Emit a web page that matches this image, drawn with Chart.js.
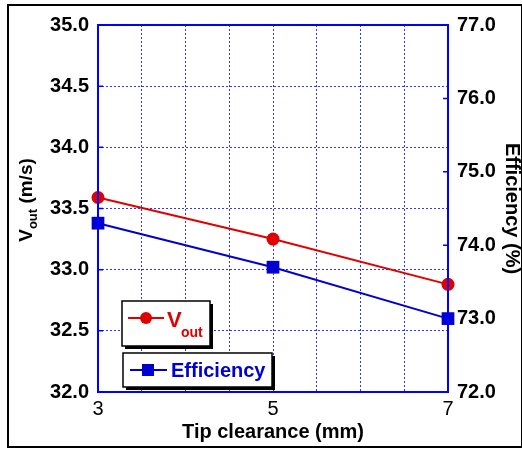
<!DOCTYPE html>
<html>
<head>
<meta charset="utf-8">
<script src="https://cdn.jsdelivr.net/npm/chart.js@4"></script>
<style>
  body { margin: 0; background: #fff; }
  #wrap { width: 522px; height: 450px; }
</style>
</head>
<body>
<div id="wrap"><canvas id="tipChart" width="522" height="450"></canvas></div>
<script>
// values
const clearance = [3, 5, 7];
const vout = [33.59, 33.25, 32.88];
const efficiency = [74.3, 73.7, 73.0];

const red = '#e00000';
const blue = '#0000d0';
const gridBlue = 'rgba(30,30,255,0.9)';

// frame, inward ticks, axis titles and the two boxed legends
const decorations = {
    id: 'decorations',
    afterDraw(chart) {
        const ctx = chart.ctx;
        const a = chart.chartArea;
        const y = chart.scales.y, y2 = chart.scales.y2;
        ctx.save();

        // outer black border
        ctx.strokeStyle = '#000';
        ctx.lineWidth = 2;
        ctx.strokeRect(8, 5, 514, 442);

        // plot frame
        ctx.strokeStyle = '#0000ff';
        ctx.lineWidth = 2;
        ctx.strokeRect(a.left, a.top, a.right - a.left, a.bottom - a.top);

        // inward tick marks
        ctx.lineWidth = 1.5;
        ctx.beginPath();
        y.ticks.forEach(t => {
            const py = y.getPixelForValue(t.value);
            ctx.moveTo(a.left, py); ctx.lineTo(a.left + 5, py);
        });
        y2.ticks.forEach(t => {
            const py = y2.getPixelForValue(t.value);
            ctx.moveTo(a.right, py); ctx.lineTo(a.right - 5, py);
        });
        ctx.stroke();

        // left title with subscript
        ctx.fillStyle = '#000';
        ctx.translate(27, 200);
        ctx.rotate(-Math.PI / 2);
        ctx.textBaseline = 'middle';
        ctx.textAlign = 'left';
        const big = 'bold 19px "Liberation Sans", Arial, sans-serif';
        const small = 'bold 13px "Liberation Sans", Arial, sans-serif';
        ctx.font = big;
        const wV = ctx.measureText('V').width;
        ctx.font = small;
        const wOut = ctx.measureText('out').width;
        ctx.font = big;
        const wRest = ctx.measureText(' (m/s)').width;
        let x0 = -(wV + wOut + wRest) / 2;
        ctx.fillText('V', x0, 0);
        ctx.font = small;
        ctx.fillText('out', x0 + wV, 6);
        ctx.font = big;
        ctx.fillText(' (m/s)', x0 + wV + wOut, 0);
        ctx.restore();

        // right title
        ctx.save();
        ctx.fillStyle = '#000';
        ctx.translate(512, (a.top + a.bottom) / 2);
        ctx.rotate(Math.PI / 2);
        ctx.textAlign = 'center';
        ctx.textBaseline = 'middle';
        ctx.font = 'bold 20px "Liberation Sans", Arial, sans-serif';
        ctx.fillText('Efficiency (%)', 0, 0);
        ctx.restore();

        // legend boxes
        ctx.save();
        const box = (x, yy, w, h) => {
            ctx.fillStyle = '#000';
            ctx.fillRect(x + 3, yy + 3, w, h);
            ctx.fillStyle = '#fff';
            ctx.fillRect(x, yy, w, h);
            ctx.strokeStyle = '#000';
            ctx.lineWidth = 1.5;
            ctx.strokeRect(x, yy, w, h);
        };
        box(122, 301, 88, 45);
        box(123, 353, 149, 34);

        ctx.lineWidth = 2;
        ctx.strokeStyle = red;
        ctx.beginPath(); ctx.moveTo(128, 318); ctx.lineTo(164, 318); ctx.stroke();
        ctx.fillStyle = red;
        ctx.beginPath(); ctx.arc(146, 318, 6, 0, Math.PI * 2); ctx.fill();
        ctx.textAlign = 'left';
        ctx.textBaseline = 'alphabetic';
        ctx.font = 'bold 22px "Liberation Sans", Arial, sans-serif';
        ctx.fillText('V', 167, 327);
        ctx.font = 'bold 14px "Liberation Sans", Arial, sans-serif';
        ctx.fillText('out', 181, 337);

        ctx.strokeStyle = blue;
        ctx.beginPath(); ctx.moveTo(130, 370); ctx.lineTo(167, 370); ctx.stroke();
        ctx.fillStyle = blue;
        ctx.fillRect(142, 364, 12, 12);
        ctx.font = 'bold 20px "Liberation Sans", Arial, sans-serif';
        ctx.fillText('Efficiency', 171, 377);
        ctx.restore();
    }
};

const ctx = document.getElementById('tipChart').getContext('2d');
new Chart(ctx, {
    type: 'line',
    data: {
        datasets: [{
            label: 'Vout',
            data: clearance.map((c, i) => ({ x: c, y: vout[i] })),
            yAxisID: 'y',
            borderColor: red,
            backgroundColor: red,
            borderWidth: 2,
            pointStyle: 'circle',
            pointRadius: 6.5,
            pointBorderWidth: 0,
            clip: false
        }, {
            label: 'Efficiency',
            data: clearance.map((c, i) => ({ x: c, y: efficiency[i] })),
            yAxisID: 'y2',
            borderColor: blue,
            backgroundColor: blue,
            borderWidth: 2,
            pointStyle: 'rect',
            pointRadius: 9,
            pointBorderWidth: 0,
            clip: false
        }]
    },
    options: {
        responsive: false,
        animation: false,
        layout: { padding: { top: 25, left: 0, right: 0, bottom: 0 } },
        plugins: {
            legend: { display: false },
            tooltip: { enabled: false }
        },
        scales: {
            x: {
                type: 'linear',
                min: 3,
                max: 7,
                afterFit: s => { s.height = 58; },
                border: { display: false, dash: [2, 2] },
                grid: { color: gridBlue, lineWidth: 1, drawTicks: false },
                ticks: {
                    stepSize: 0.5,
                    padding: 5,
                    color: '#000',
                    font: { family: '"Liberation Sans", Arial, sans-serif', size: 20 },
                    callback: v => (v % 2 === 1 ? String(v) : '')
                },
                title: {
                    display: true,
                    text: 'Tip clearance (mm)',
                    color: '#000',
                    font: { family: '"Liberation Sans", Arial, sans-serif', size: 20, weight: 'bold' },
                    padding: { top: 0, bottom: 6 }
                }
            },
            y: {
                position: 'left',
                min: 32,
                max: 35,
                afterFit: s => { s.width = 98; },
                border: { display: false, dash: [2, 2] },
                grid: { color: gridBlue, lineWidth: 1, drawTicks: false },
                ticks: {
                    stepSize: 0.5,
                    padding: 9,
                    color: '#000',
                    font: { family: '"Liberation Sans", Arial, sans-serif', size: 20, weight: 'bold' },
                    callback: v => v.toFixed(1)
                }
            },
            y2: {
                position: 'right',
                min: 72,
                max: 77,
                afterFit: s => { s.width = 74; },
                border: { display: false },
                grid: { drawOnChartArea: false, drawTicks: false },
                ticks: {
                    stepSize: 1,
                    padding: 9,
                    color: '#000',
                    font: { family: '"Liberation Sans", Arial, sans-serif', size: 20, weight: 'bold' },
                    callback: v => v.toFixed(1)
                }
            }
        }
    },
    plugins: [decorations]
});
</script>
</body>
</html>
